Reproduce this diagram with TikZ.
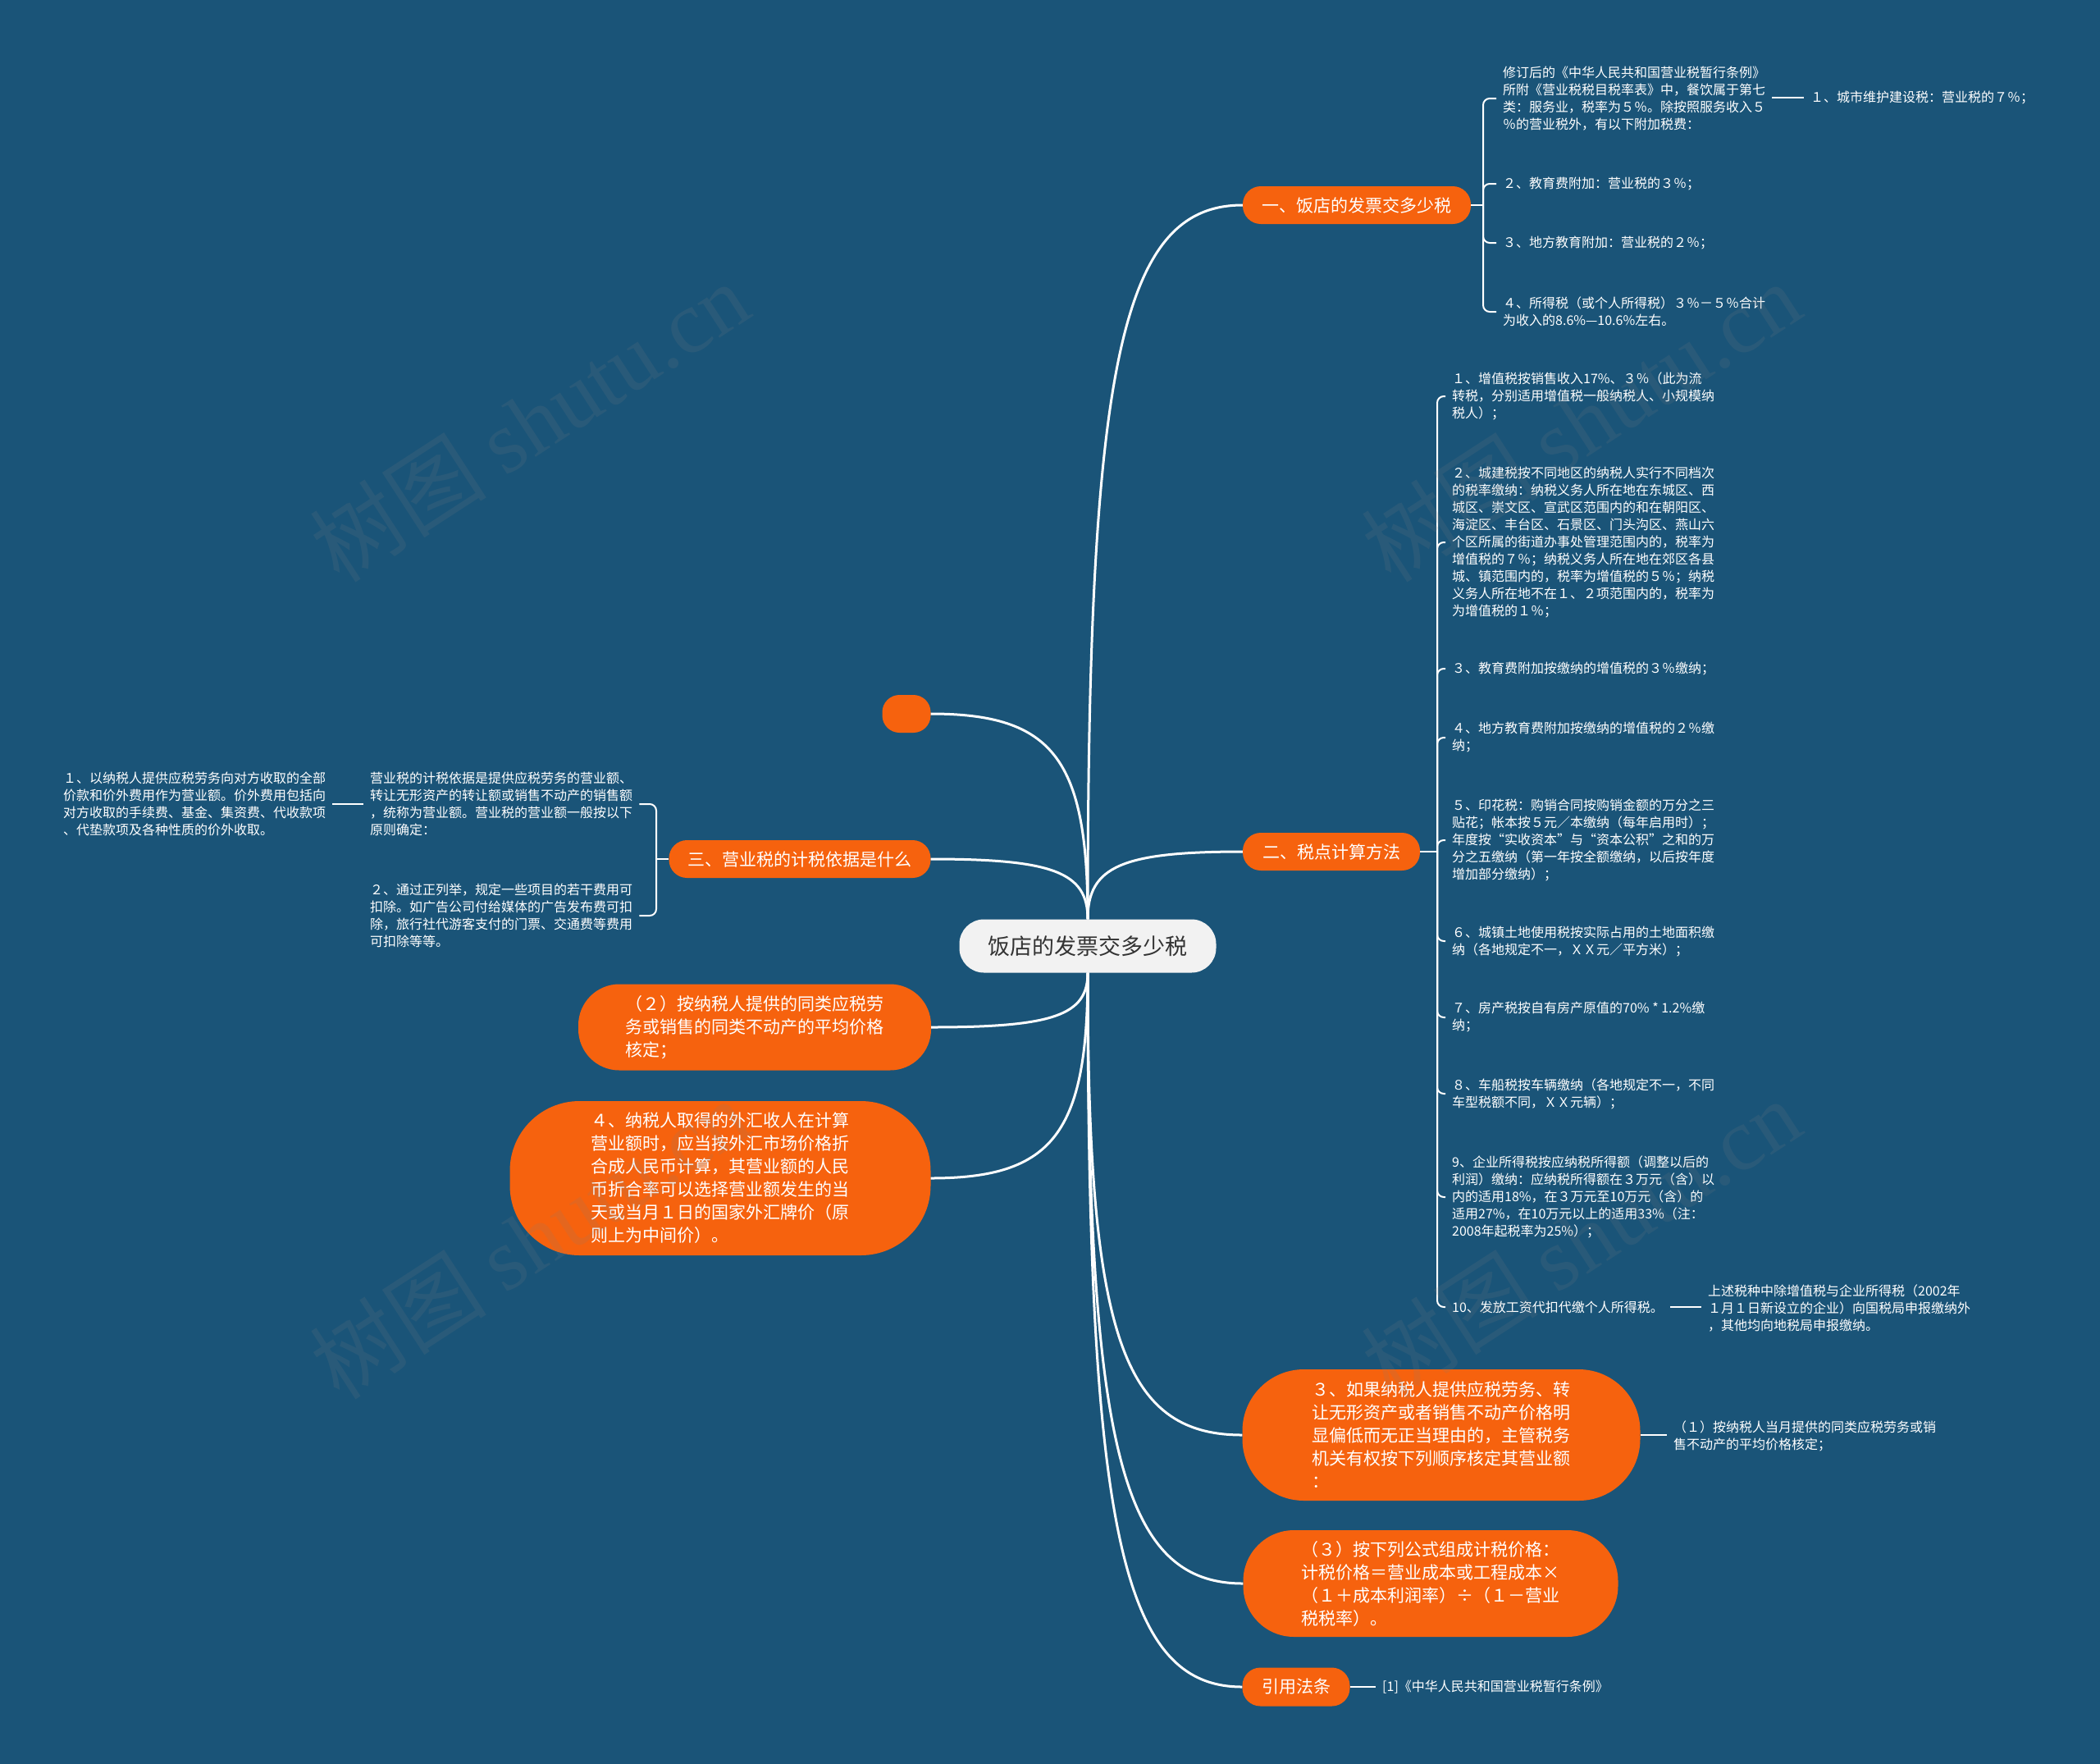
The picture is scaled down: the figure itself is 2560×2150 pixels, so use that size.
\documentclass[tikz,border=0pt]{standalone}
\usepackage{fontspec}
\setmainfont{Noto Sans CJK SC}
\newfontfamily\wmserif{Liberation Serif}
\usetikzlibrary{calc}
\definecolor{bgblue}{RGB}{26,84,120}
\definecolor{orangec}{RGB}{246,98,14}
\definecolor{rootfill}{RGB}{242,242,242}
\definecolor{roottext}{RGB}{51,51,51}
\newcommand\rootlink[2]{%
  \path (#1) coordinate (ls) (#2) coordinate (le);
  \path ($(ls)!0.78!(le)$) coordinate (lm1) ($(ls)!0.22!(le)$) coordinate (lm2);
  \draw[mainlink] (ls) .. controls (ls |- lm1) and (lm2 |- le) .. (le);}
\begin{document}
\begin{tikzpicture}[x=1pt,y=-1pt,
  mainlink/.style={draw=white, line width=3pt},
  sublink/.style={draw=white, line width=2pt, rounded corners=8pt},
  rootbox/.style={fill=rootfill, text=roottext, font=\fontsize{27}{32}\selectfont, inner sep=0pt},
  topic/.style={fill=orangec, text=white, font=\fontsize{21}{28}\selectfont, inner sep=0pt, align=left},
  leaf/.style={text=white, font=\fontsize{16}{21}\selectfont, inner xsep=8pt, inner ysep=2pt, align=left},
  wm/.style={text=gray, opacity=0.15, rotate=33, font=\fontsize{108}{108}\selectfont}]
\fill[bgblue] (0,0) rectangle (2560,2150);
\useasboundingbox (0,0) rectangle (2560,2150);

% root
\node[rootbox, minimum width=313pt, minimum height=65pt, rounded corners=30pt] (root) at (1326,1153) {饭店的发票交多少税};

% level 1
\node[topic, minimum width=278pt, minimum height=46pt, rounded corners=22pt] (n1) at (1654,250) {一、饭店的发票交多少税};
\node[topic, minimum width=216pt, minimum height=46pt, rounded corners=22pt] (n2) at (1623,1038) {二、税点计算方法};
\node[topic, minimum width=319pt, minimum height=46pt, rounded corners=22pt] (n3) at (975,1047) {三、营业税的计税依据是什么};
\node[topic, minimum width=59pt, minimum height=46pt, rounded corners=21pt] (ne) at (1105,870) {};
\node[topic, minimum width=430pt, minimum height=105pt, rounded corners=50pt] (n5) at (920,1252) {（２）按纳税人提供的同类应税劳\\务或销售的同类不动产的平均价格\\核定；};
\node[topic, minimum width=513pt, minimum height=188pt, rounded corners=85pt] (n6) at (878,1436) {４、纳税人取得的外汇收人在计算\\营业额时，应当按外汇市场价格折\\合成人民币计算，其营业额的人民\\币折合率可以选择营业额发生的当\\天或当月１日的国家外汇牌价（原\\则上为中间价）。};
\node[topic, minimum width=485pt, minimum height=160pt, rounded corners=75pt] (n7) at (1757,1749) {３、如果纳税人提供应税劳务、转\\让无形资产或者销售不动产价格明\\显偏低而无正当理由的，主管税务\\机关有权按下列顺序核定其营业额\\：};
\node[topic, minimum width=457pt, minimum height=130pt, rounded corners=62pt] (n8) at (1744,1930) {（３）按下列公式组成计税价格：\\计税价格＝营业成本或工程成本×\\（１＋成本利润率）÷（１－营业\\税税率）。};
\node[topic, minimum width=131pt, minimum height=47pt, rounded corners=22pt] (n9) at (1580,2056) {引用法条};

% root links
\rootlink{root.north}{n1.west}
\rootlink{root.north}{n2.west}
\rootlink{root.north}{n3.east}
\rootlink{root.north}{ne.east}
\rootlink{root.south}{n5.east}
\rootlink{root.south}{n6.east}
\rootlink{root.south}{n7.west}
\rootlink{root.south}{n8.west}
\rootlink{root.south}{n9.west}

% branch 1
\node[leaf, anchor=west] (a1) at (1824,120) {修订后的《中华人民共和国营业税暂行条例》\\所附《营业税税目税率表》中，餐饮属于第七\\类：服务业，税率为５％。除按照服务收入５\\％的营业税外，有以下附加税费：};
\node[leaf, anchor=west] (a1x) at (2199,119) {１、城市维护建设税：营业税的７％；};
\node[leaf, anchor=west] (a2) at (1824,224) {２、教育费附加：营业税的３％；};
\node[leaf, anchor=west] (a3) at (1824,296) {３、地方教育附加：营业税的２％；};
\node[leaf, anchor=west] (a4) at (1824,380) {４、所得税（或个人所得税）３％－５％合计\\为收入的8.6\%—10.6\%左右。};
\coordinate (j1) at (1808,250);
\draw[sublink] (n1.east) -- (j1);
\draw[sublink] (j1) |- (a1.west);
\draw[sublink] (j1) |- (a2.west);
\draw[sublink] (j1) |- (a3.west);
\draw[sublink] (j1) |- (a4.west);
\draw[sublink] (a1.east |- a1x.west) -- (a1x.west);

% branch 2
\node[leaf, anchor=west] (b1) at (1762,483) {１、增值税按销售收入17\%、３％（此为流\\转税，分别适用增值税一般纳税人、小规模纳\\税人）；};
\node[leaf, anchor=west] (b2) at (1762,661) {２、城建税按不同地区的纳税人实行不同档次\\的税率缴纳：纳税义务人所在地在东城区、西\\城区、崇文区、宣武区范围内的和在朝阳区、\\海淀区、丰台区、石景区、门头沟区、燕山六\\个区所属的街道办事处管理范围内的，税率为\\增值税的７％；纳税义务人所在地在郊区各县\\城、镇范围内的，税率为增值税的５％；纳税\\义务人所在地不在１、２项范围内的，税率为\\为增值税的１％；};
\node[leaf, anchor=west] (b3) at (1762,815) {３、教育费附加按缴纳的增值税的３％缴纳；};
\node[leaf, anchor=west] (b4) at (1762,899) {４、地方教育费附加按缴纳的增值税的２％缴\\纳；};
\node[leaf, anchor=west] (b5) at (1762,1024) {５、印花税：购销合同按购销金额的万分之三\\贴花；帐本按５元／本缴纳（每年启用时）；\\年度按“实收资本”与“资本公积”之和的万\\分之五缴纳（第一年按全额缴纳，以后按年度\\增加部分缴纳）；};
\node[leaf, anchor=west] (b6) at (1762,1147) {６、城镇土地使用税按实际占用的土地面积缴\\纳（各地规定不一，ＸＸ元／平方米）；};
\node[leaf, anchor=west] (b7) at (1762,1240) {７、房产税按自有房产原值的70\% * 1.2\%缴\\纳；};
\node[leaf, anchor=west] (b8) at (1762,1333) {８、车船税按车辆缴纳（各地规定不一，不同\\车型税额不同，ＸＸ元辆）；};
\node[leaf, anchor=west] (b9) at (1762,1459) {9、企业所得税按应纳税所得额（调整以后的\\利润）缴纳：应纳税所得额在３万元（含）以\\内的适用18\%，在３万元至10万元（含）的\\适用27\%，在10万元以上的适用33\%（注：\\2008年起税率为25\%）；};
\node[leaf, anchor=west] (b10) at (1762,1593) {10、发放工资代扣代缴个人所得税。};
\node[leaf, anchor=west] (b10x) at (2074,1594) {上述税种中除增值税与企业所得税（2002年\\１月１日新设立的企业）向国税局申报缴纳外\\，其他均向地税局申报缴纳。};
\coordinate (j2) at (1752,1038);
\draw[sublink] (n2.east) -- (j2);
\foreach \c in {b1,b2,b3,b4,b5,b6,b7,b8,b9,b10}{\draw[sublink] (j2) |- (\c.west);}
\draw[sublink] (b10.east) -- (b10x.west |- b10.east);

% branch 3
\node[leaf, anchor=west] (c1) at (443,980) {营业税的计税依据是提供应税劳务的营业额、\\转让无形资产的转让额或销售不动产的销售额\\，统称为营业额。营业税的营业额一般按以下\\原则确定：};
\node[leaf, anchor=west] (c2) at (443,1116) {２、通过正列举，规定一些项目的若干费用可\\扣除。如广告公司付给媒体的广告发布费可扣\\除，旅行社代游客支付的门票、交通费等费用\\可扣除等等。};
\node[leaf, anchor=west] (c1x) at (69,980) {１、以纳税人提供应税劳务向对方收取的全部\\价款和价外费用作为营业额。价外费用包括向\\对方收取的手续费、基金、集资费、代收款项\\、代垫款项及各种性质的价外收取。};
\coordinate (j3) at (800,1047);
\draw[sublink] (n3.west) -- (j3);
\draw[sublink] (j3) |- (c1.east);
\draw[sublink] (j3) |- (c2.east);
\draw[sublink] (c1x.east) -- (c1.west);

% branch 3、 and 引用
\node[leaf, anchor=west] (d1) at (2032,1750) {（１）按纳税人当月提供的同类应税劳务或销\\售不动产的平均价格核定；};
\draw[sublink] (n7.east) -- (d1.west |- n7.east);
\node[leaf, anchor=west] (e1) at (1677,2056) {[1]《中华人民共和国营业税暂行条例》};
\draw[sublink] (n9.east) -- (e1.west);

% watermarks
\node[wm] (w1) at (645,514) {树图 {\wmserif shutu.cn}};
\node[wm] (w2) at (1927,514) {树图 {\wmserif shutu.cn}};
\node[wm] (w3) at (645,1510) {树图 {\wmserif shutu.cn}};
\node[wm] (w4) at (1927,1510) {树图 {\wmserif shutu.cn}};
\end{tikzpicture}
\end{document}
